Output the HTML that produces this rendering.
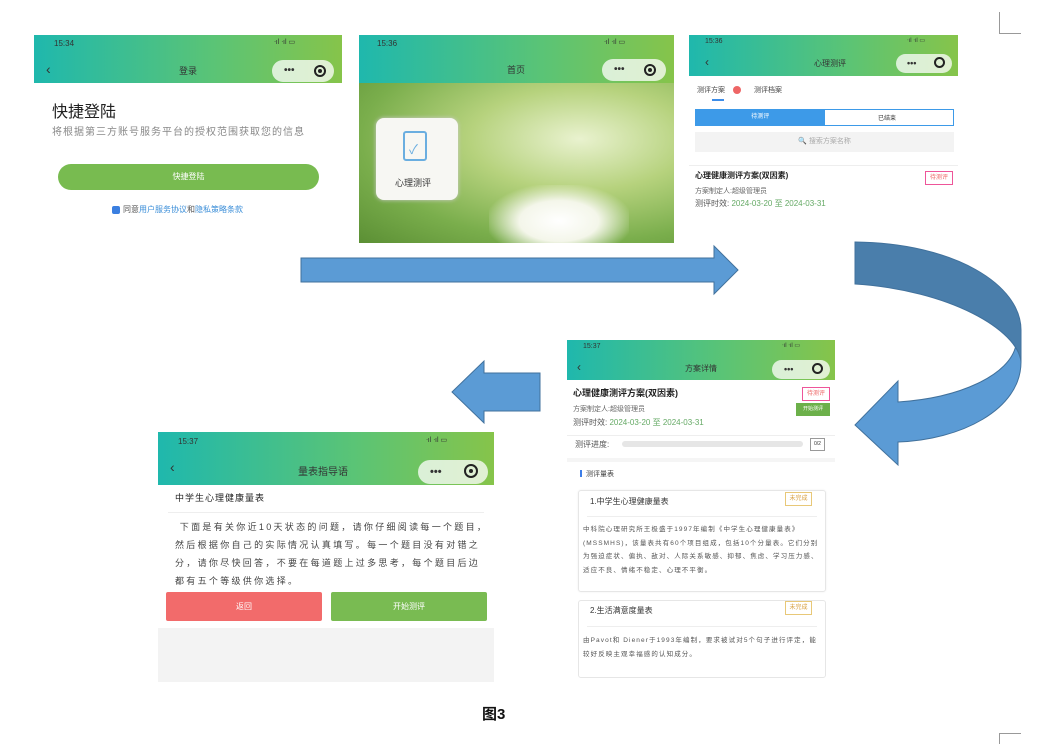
<!DOCTYPE html>
<html><head><meta charset="utf-8">
<style>
*{margin:0;padding:0;box-sizing:border-box}
body{width:1037px;height:744px;background:#fff;position:relative;overflow:hidden;font-family:"Liberation Sans","Noto Sans CJK SC",sans-serif;color:#333}
.scr{position:absolute;background:#fff;overflow:hidden}
.hd{position:absolute;left:0;right:0;top:0;background:linear-gradient(90deg,#1fb8ad,#5cc474 60%,#86c44a)}
.cap{position:absolute;background:rgba(255,255,255,.75);border-radius:12px}
.a{position:absolute;white-space:nowrap}
</style></head><body>

<div style="position:absolute;left:999px;top:12px;width:1px;height:22px;background:#999"></div>
<div style="position:absolute;left:999px;top:33px;width:22px;height:1px;background:#999"></div>
<div style="position:absolute;left:999px;top:733px;width:1px;height:11px;background:#999"></div>
<div style="position:absolute;left:999px;top:733px;width:22px;height:1px;background:#999"></div>

<!-- Screen 1 -->
<div class="scr" style="left:34px;top:35px;width:308px;height:190px">
 <div class="hd" style="height:48px"></div>
 <div class="a" style="left:20px;top:4px;font-size:8px">15:34</div>
 <div class="a" style="left:240px;top:3px;font-size:7px">ᐧıl ᐧıl ▭</div>
 <div class="a" style="left:12px;top:26px;font-size:14px">‹</div>
 <div class="a" style="left:145px;top:29px;font-size:9px">登录</div>
 <div class="cap" style="left:238px;top:25px;width:62px;height:22px"></div>
 <div class="a" style="left:250px;top:31px;font-size:10px;font-weight:bold;line-height:10px">•••</div>
 <div style="position:absolute;left:280px;top:30px;width:12px;height:12px;border:2px solid #222;border-radius:50%"><div style="margin:2px;width:4px;height:4px;background:#222;border-radius:50%"></div></div>
 <div class="a" style="left:18px;top:63px;font-size:16px;color:#222">快捷登陆</div>
 <div class="a" style="left:18px;top:88px;font-size:10px;color:#888;letter-spacing:1px">将根据第三方账号服务平台的授权范围获取您的信息</div>
 <div style="position:absolute;left:24px;top:129px;width:261px;height:26px;background:#78bb50;border-radius:13px;color:#fff;font-size:8px;text-align:center;line-height:26px">快捷登陆</div>
 <div style="position:absolute;left:78px;top:171px;width:8px;height:8px;background:#3b7fe0;border-radius:2px"></div>
 <div class="a" style="left:89px;top:169px;font-size:8px;color:#555">同意<span style="color:#3b8ed8">用户服务协议</span>和<span style="color:#3b8ed8">隐私策略条款</span></div>
</div>

<!-- Screen 2 -->
<div class="scr" style="left:359px;top:35px;width:315px;height:208px">
 <div style="position:absolute;inset:0;background:radial-gradient(ellipse at 70% 50%,#e9f2cf 0%,#b6d27d 35%,#7aae4c 70%,#5b8f34 100%)"></div>
 <div style="position:absolute;left:130px;top:150px;width:140px;height:60px;background:radial-gradient(ellipse at 50% 60%,#fff 0%,#f4f6ea 40%,rgba(255,255,255,0) 75%)"></div>
 <div class="hd" style="height:48px"></div>
 <div class="a" style="left:18px;top:4px;font-size:8px">15:36</div>
 <div class="a" style="left:245px;top:3px;font-size:7px">ᐧıl ᐧıl ▭</div>
 <div class="a" style="left:148px;top:28px;font-size:9px">首页</div>
 <div class="cap" style="left:243px;top:24px;width:64px;height:22px"></div>
 <div class="a" style="left:255px;top:30px;font-size:10px;font-weight:bold;line-height:10px">•••</div>
 <div style="position:absolute;left:285px;top:29px;width:12px;height:12px;border:2px solid #222;border-radius:50%"><div style="margin:2px;width:4px;height:4px;background:#222;border-radius:50%"></div></div>
 <div style="position:absolute;left:17px;top:83px;width:82px;height:82px;background:#f7f7f3;border-radius:8px;box-shadow:0 0 4px #ccc"></div>
 <div style="position:absolute;left:44px;top:96px;width:24px;height:30px;border:2px solid #6aaee0;border-radius:3px"></div>
 <div class="a" style="left:50px;top:104px;font-size:13px;color:#6aaee0">✓</div>
 <div class="a" style="left:36px;top:141px;font-size:9px;color:#333">心理测评</div>
</div>

<!-- Screen 3 -->
<div class="scr" style="left:689px;top:35px;width:269px;height:185px">
 <div class="hd" style="height:41px"></div>
 <div class="a" style="left:16px;top:3px;font-size:7px">15:36</div>
 <div class="a" style="left:218px;top:2px;font-size:6px">ᐧıl ᐧıl ▭</div>
 <div class="a" style="left:16px;top:20px;font-size:12px">‹</div>
 <div class="a" style="left:125px;top:23px;font-size:8px">心理测评</div>
 <div class="cap" style="left:207px;top:19px;width:56px;height:19px"></div>
 <div class="a" style="left:218px;top:24px;font-size:9px;font-weight:bold;line-height:9px">•••</div>
 <div style="position:absolute;left:245px;top:22px;width:11px;height:11px;border:2px solid #222;border-radius:50%"></div>
 <div class="a" style="left:8px;top:50px;font-size:7px;color:#444">测评方案</div>
 <div style="position:absolute;left:44px;top:51px;width:8px;height:8px;background:#e66;border-radius:50%"></div>
 <div class="a" style="left:65px;top:50px;font-size:7px;color:#444">测评档案</div>
 <div style="position:absolute;left:23px;top:64px;width:12px;height:2px;background:#3d8de8"></div>
 <div style="position:absolute;left:6px;top:74px;width:259px;height:17px;border:1px solid #3d9ae8"><div style="width:50%;height:100%;background:#3d9ae8;color:#fff;font-size:6px;text-align:center;line-height:15px">待测评</div><div class="a" style="left:182px;top:3px;font-size:6px">已结束</div></div>
 <div style="position:absolute;left:6px;top:97px;width:259px;height:20px;background:#f3f3f3;font-size:7px;color:#aaa;text-align:center;line-height:20px">🔍 搜索方案名称</div>
 <div style="position:absolute;left:0;top:130px;width:269px;height:1px;background:#eee"></div>
 <div class="a" style="left:6px;top:135px;font-size:8px;font-weight:bold;color:#222">心理健康测评方案(双因素)</div>
 <div style="position:absolute;left:236px;top:136px;width:28px;height:14px;border:1px solid #e59;font-size:6px;color:#e66;text-align:center;line-height:12px">待测评</div>
 <div class="a" style="left:6px;top:151px;font-size:7px;color:#666">方案制定人:超级管理员</div>
 <div class="a" style="left:6px;top:163px;font-size:8px;color:#555">测评时效: <span style="color:#6a6">2024-03-20 至 2024-03-31</span></div>
</div>

<svg style="position:absolute;left:0;top:0" width="1037" height="744">
 <polygon points="301,258 714,258 714,246 738,270 714,294 714,282 301,282" fill="#5b9bd5" stroke="#41719c" stroke-width="1"/>
 <polygon points="540,373 484,373 484,361 452,392 484,423 484,411 540,411" fill="#5b9bd5" stroke="#41719c" stroke-width="1"/>
 <path d="M1021,330 L1021,362 C1021,410 960,440 898,442 L898,465 L855,425 L898,381 L898,402 C960,398 1010,375 1016,345 Z" fill="#5b9bd5" stroke="#41719c" stroke-width="1"/>
 <path d="M855,242 C955,243 1021,285 1021,330 L1021,362 C1018,330 950,290 855,284 Z" fill="#4a7eab" stroke="#41719c" stroke-width="1"/>
</svg>

<!-- Screen 4 -->
<div class="scr" style="left:567px;top:340px;width:268px;height:340px">
 <div class="hd" style="height:40px"></div>
 <div class="a" style="left:16px;top:3px;font-size:7px">15:37</div>
 <div class="a" style="left:215px;top:2px;font-size:6px">ᐧıl ᐧıl ▭</div>
 <div class="a" style="left:10px;top:20px;font-size:12px">‹</div>
 <div class="a" style="left:118px;top:23px;font-size:8px">方案详情</div>
 <div class="cap" style="left:205px;top:20px;width:58px;height:19px"></div>
 <div class="a" style="left:217px;top:25px;font-size:9px;font-weight:bold;line-height:9px">•••</div>
 <div style="position:absolute;left:245px;top:23px;width:11px;height:11px;border:2px solid #222;border-radius:50%"></div>
 <div class="a" style="left:6px;top:46px;font-size:9px;font-weight:bold;color:#222">心理健康测评方案(双因素)</div>
 <div style="position:absolute;left:235px;top:47px;width:28px;height:14px;border:1px solid #e59;font-size:6px;color:#e66;text-align:center;line-height:12px">待测评</div>
 <div style="position:absolute;left:229px;top:63px;width:34px;height:13px;background:#6cb04a;font-size:5px;color:#fff;text-align:center;line-height:13px">开始测评</div>
 <div class="a" style="left:6px;top:64px;font-size:7px;color:#666">方案制定人:超级管理员</div>
 <div class="a" style="left:6px;top:77px;font-size:8px;color:#555">测评时效: <span style="color:#6a6">2024-03-20 至 2024-03-31</span></div>
 <div style="position:absolute;left:0;top:95px;width:268px;height:1px;background:#eee"></div>
 <div class="a" style="left:8px;top:99px;font-size:8px;color:#555">测评进度:</div>
 <div style="position:absolute;left:55px;top:101px;width:181px;height:6px;background:#e6e6e6;border-radius:3px"></div>
 <div style="position:absolute;left:243px;top:98px;width:15px;height:13px;border:1px solid #999;font-size:5px;text-align:center;line-height:11px">0/2</div>
 <div style="position:absolute;left:0;top:118px;width:268px;height:4px;background:#f5f5f5"></div>
 <div style="position:absolute;left:13px;top:130px;width:2px;height:7px;background:#3d7ee8"></div>
 <div class="a" style="left:19px;top:129px;font-size:7px;color:#444">测评量表</div>
 <div style="position:absolute;left:11px;top:150px;width:248px;height:102px;border:1px solid #e6e6e6;border-radius:3px;box-shadow:0 0 2px #eee"></div>
 <div class="a" style="left:23px;top:156px;font-size:8px;color:#333">1.中学生心理健康量表</div>
 <div style="position:absolute;left:218px;top:152px;width:27px;height:14px;border:1px solid #e8c878;font-size:6px;color:#d8a040;text-align:center;line-height:12px">未完成</div>
 <div style="position:absolute;left:20px;top:176px;width:230px;height:1px;background:#eee"></div>
 <div style="position:absolute;left:16px;top:183px;width:240px;font-size:6.5px;line-height:13.5px;color:#555;letter-spacing:1.1px">中科院心理研究所王极盛于1997年编制《中学生心理健康量表》(MSSMHS)，该量表共有60个项目组成，包括10个分量表。它们分别为强迫症状、偏执、敌对、人际关系敏感、抑郁、焦虑、学习压力感、适应不良、情绪不稳定、心理不平衡。</div>
 <div style="position:absolute;left:11px;top:260px;width:248px;height:78px;border:1px solid #e6e6e6;border-radius:3px"></div>
 <div class="a" style="left:23px;top:265px;font-size:8px;color:#333">2.生活满意度量表</div>
 <div style="position:absolute;left:218px;top:261px;width:27px;height:14px;border:1px solid #e8c878;font-size:6px;color:#d8a040;text-align:center;line-height:12px">未完成</div>
 <div style="position:absolute;left:20px;top:286px;width:230px;height:1px;background:#eee"></div>
 <div style="position:absolute;left:16px;top:294px;width:240px;font-size:6.5px;line-height:13.5px;color:#555;letter-spacing:1.1px">由Pavot和 Diener于1993年编制，要求被试对5个句子进行评定，能较好反映主观幸福感的认知成分。</div>
</div>

<!-- Screen 5 -->
<div class="scr" style="left:158px;top:432px;width:336px;height:250px">
 <div class="hd" style="height:53px"></div>
 <div class="a" style="left:20px;top:5px;font-size:8px">15:37</div>
 <div class="a" style="left:268px;top:4px;font-size:7px">ᐧıl ᐧıl ▭</div>
 <div class="a" style="left:12px;top:27px;font-size:14px">‹</div>
 <div class="a" style="left:140px;top:31px;font-size:10px">量表指导语</div>
 <div class="cap" style="left:260px;top:28px;width:70px;height:24px"></div>
 <div class="a" style="left:272px;top:35px;font-size:11px;font-weight:bold;line-height:11px">•••</div>
 <div style="position:absolute;left:306px;top:32px;width:14px;height:14px;border:2px solid #222;border-radius:50%"><div style="margin:3px;width:4px;height:4px;background:#222;border-radius:50%"></div></div>
 <div class="a" style="left:17px;top:59px;font-size:9px;color:#222;letter-spacing:1px">中学生心理健康量表</div>
 <div style="position:absolute;left:10px;top:80px;width:316px;height:1px;background:#eee"></div>
 <div style="position:absolute;left:17px;top:86px;width:314px;font-size:9px;line-height:18px;color:#444;letter-spacing:2.3px">&nbsp;下面是有关你近10天状态的问题，请你仔细阅读每一个题目，然后根据你自己的实际情况认真填写。每一个题目没有对错之分，请你尽快回答，不要在每道题上过多思考，每个题目后边都有五个等级供你选择。</div>
 <div style="position:absolute;left:8px;top:160px;width:156px;height:29px;background:#f26b6b;border-radius:2px;color:#fff;font-size:8px;text-align:center;line-height:29px">返回</div>
 <div style="position:absolute;left:173px;top:160px;width:156px;height:29px;background:#79bb52;border-radius:2px;color:#fff;font-size:8px;text-align:center;line-height:29px">开始测评</div>
 <div style="position:absolute;left:0;top:196px;width:336px;height:54px;background:#f3f3f3"></div>
</div>

<div class="a" style="left:482px;top:703px;font-size:15px;font-weight:bold;color:#111">图3</div>
</body></html>
